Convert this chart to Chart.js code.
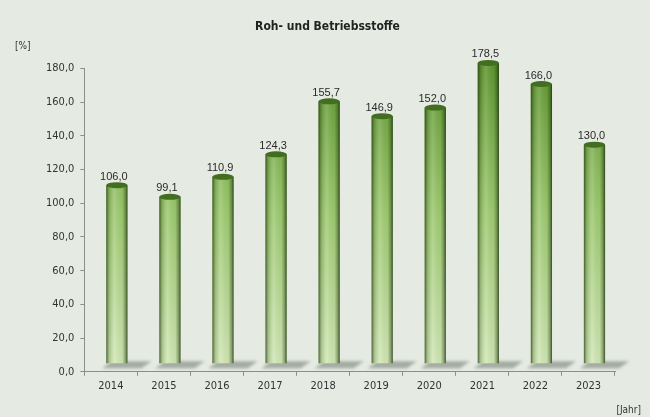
<!DOCTYPE html>
<html>
<head>
<meta charset="utf-8">
<script src="https://cdn.jsdelivr.net/npm/chart.js@4"></script>
<style>
  body { margin: 0; background: #e5ebe3; }
  #wrap { width: 650px; height: 417px; }
</style>
</head>
<body>
<div id="wrap"><canvas id="myChart" width="650" height="417"></canvas></div>
<script>
const years = ["2014", "2015", "2016", "2017", "2018", "2019", "2020", "2021", "2022", "2023"];
const percentValues = [106.0, 99.1, 110.9, 124.3, 155.7, 146.9, 152.0, 178.5, 166.0, 130.0];
const yTicks = [0, 20, 40, 60, 80, 100, 120, 140, 160, 180];

const fmt = (v) => v.toFixed(1).replace(".", ",");
const depth = { dx: 6, dy: -8 }; // fake 3D offset of the cylinders
const narrow = "'DejaVu Sans Condensed', 'Liberation Sans Narrow', sans-serif";

// cylinder look: shadow, shaded body, dark top ellipse, value labels
const cylinderPlugin = {
  id: "cylinders",
  beforeDatasetsDraw(chart) {
    const ctx = chart.ctx;
    const meta = chart.getDatasetMeta(0);
    ctx.save();
    ctx.filter = "blur(1.5px)";
    meta.data.forEach((bar) => {
      const w = bar.width;
      const x0 = bar.x - w / 2 + depth.dx;
      const base = bar.base + depth.dy;
      // floor shadow
      ctx.fillStyle = "rgba(100,108,100,0.5)";
      ctx.beginPath();
      ctx.moveTo(x0 - 4, base + 5);
      ctx.lineTo(x0 + w + 14, base + 5);
      ctx.lineTo(x0 + w + 24, base - 2);
      ctx.lineTo(x0 + 6, base - 2);
      ctx.closePath();
      ctx.fill();
    });
    ctx.restore();
    ctx.save();
    ctx.translate(depth.dx, depth.dy);
  },
  afterDatasetsDraw(chart) {
    const ctx = chart.ctx;
    ctx.restore();
    const meta = chart.getDatasetMeta(0);
    ctx.save();
    meta.data.forEach((bar, i) => {
      const w = bar.width;
      const x0 = bar.x - w / 2 + depth.dx;
      const top = bar.y + depth.dy;
      const base = bar.base + depth.dy;
      // side shading
      const g = ctx.createLinearGradient(x0, 0, x0 + w, 0);
      g.addColorStop(0, "rgba(30,55,10,0.75)");
      g.addColorStop(0.12, "rgba(30,55,10,0.25)");
      g.addColorStop(0.4, "rgba(255,255,255,0.12)");
      g.addColorStop(0.75, "rgba(30,55,10,0.05)");
      g.addColorStop(0.9, "rgba(30,55,10,0.4)");
      g.addColorStop(1, "rgba(20,40,5,0.8)");
      ctx.fillStyle = g;
      ctx.fillRect(x0, top, w, base - top);
      // top cap
      ctx.fillStyle = "#416e1f";
      ctx.beginPath();
      ctx.ellipse(x0 + w / 2, top, w / 2, 3, 0, 0, Math.PI * 2);
      ctx.fill();
      // value label
      ctx.fillStyle = "#2a2a2a";
      ctx.font = "11px 'Liberation Sans', Arial, sans-serif";
      ctx.textAlign = "center";
      ctx.textBaseline = "bottom";
      ctx.fillText(fmt(percentValues[i]), bar.x + depth.dx - 3, top - 3);
    });
    // unit labels
    ctx.fillStyle = "#333";
    ctx.font = "10px " + narrow;
    ctx.textAlign = "left";
    ctx.textBaseline = "middle";
    ctx.fillText("[%]", 15, chart.chartArea.top - 22);
    ctx.textAlign = "right";
    ctx.fillText("[Jahr]", 641, chart.chartArea.bottom + 39);
    ctx.restore();
  },
};

new Chart("myChart", {
  type: "bar",
  data: {
    labels: years,
    datasets: [
      {
        data: percentValues,
        backgroundColor: (c) => {
          const area = c.chart.chartArea;
          if (!area) return "#8cbd5a";
          const g = c.chart.ctx.createLinearGradient(0, area.top, 0, area.bottom);
          g.addColorStop(0, "#5e952f");
          g.addColorStop(0.5, "#9fcb72");
          g.addColorStop(1, "#d3e8b8");
          return g;
        },
        borderWidth: 0,
        barPercentage: 0.4,
        categoryPercentage: 1,
      },
    ],
  },
  options: {
    responsive: false,
    animation: false,
    layout: { padding: { top: 20, right: 35, bottom: 20, left: 40 } },
    plugins: {
      legend: { display: false },
      tooltip: { enabled: false },
      title: {
        display: true,
        text: "Roh- und Betriebsstoffe",
        color: "#222",
        font: { family: narrow, size: 12, weight: "bold" },
        padding: { top: 0, bottom: 34 },
      },
    },
    scales: {
      x: {
        grid: { offset: true, drawOnChartArea: false, tickLength: 4, color: "#8a8f88" },
        border: { color: "#8a8f88" },
        ticks: {
          color: "#333",
          font: { family: narrow, size: 11 },
          padding: 4,
        },
      },
      y: {
        min: 0,
        max: 180,
        afterBuildTicks: (axis) => {
          axis.ticks = yTicks.map((v) => ({ value: v }));
        },
        grid: { drawOnChartArea: false, tickLength: 4, color: "#8a8f88" },
        border: { color: "#8a8f88" },
        ticks: {
          color: "#333",
          font: { family: narrow, size: 11 },
          padding: 6,
          callback: (v) => fmt(v),
        },
      },
    },
  },
  plugins: [cylinderPlugin],
});
</script>
</body>
</html>
